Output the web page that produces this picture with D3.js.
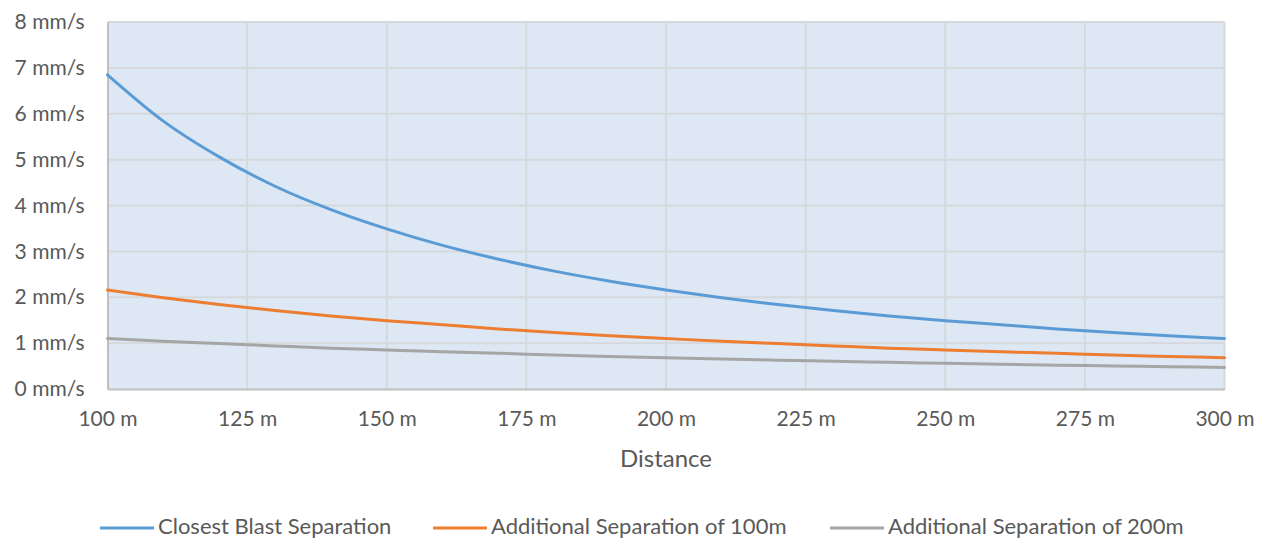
<!DOCTYPE html>
<html>
<head>
<meta charset="utf-8">
<script src="https://cdn.jsdelivr.net/npm/d3@7"></script>
<style>
  html, body { margin: 0; padding: 0; background: #fff; }
  svg { display: block; font-family: Lato, "Noto Sans", sans-serif; }
</style>
</head>
<body>
<svg id="chart" width="1268" height="539"></svg>
<script>
// Peak particle velocity against distance for three blast separations
const distances = [100, 110, 120, 130, 140, 150, 160, 170, 180, 190, 200,
                   210, 220, 230, 240, 250, 260, 270, 280, 290, 300];
const closestBlast = [6.85, 5.84, 5.06, 4.42, 3.91, 3.49, 3.13, 2.83, 2.57, 2.35, 2.16,
                      1.99, 1.84, 1.71, 1.59, 1.49, 1.40, 1.31, 1.23, 1.16, 1.10];
const extra100 = [2.16, 1.99, 1.84, 1.71, 1.59, 1.49, 1.40, 1.31, 1.23, 1.16, 1.10,
                  1.04, 0.99, 0.94, 0.89, 0.85, 0.81, 0.78, 0.74, 0.71, 0.68];
const extra200 = [1.10, 1.04, 0.99, 0.94, 0.89, 0.85, 0.81, 0.78, 0.74, 0.71, 0.68,
                  0.654, 0.628, 0.604, 0.581, 0.56, 0.54, 0.52, 0.503, 0.486, 0.47];
const seriesNames = ["Closest Blast Separation", "Additional Separation of 100m", "Additional Separation of 200m"];
const seriesColors = ["#5b9bd5", "#ed7d31", "#a5a5a5"];
const xTicks = [100, 125, 150, 175, 200, 225, 250, 275, 300];
const yTicks = [0, 1, 2, 3, 4, 5, 6, 7, 8];
const xTitle = "Distance";

const series = [closestBlast, extra100, extra200].map((vals, i) => ({
  name: seriesNames[i], color: seriesColors[i],
  points: distances.map((d, j) => [d, vals[j]])
}));

const svg = d3.select("#chart");
const plotLeft = 107.5, plotRight = 1224.5, plotTop = 22, plotBottom = 389;

const x = d3.scaleLinear().domain([100, 300]).range([plotLeft, plotRight]);
const y = d3.scaleLinear().domain([0, 8]).range([plotBottom, plotTop]);

// plot background
svg.append("rect")
  .attr("x", plotLeft).attr("y", plotTop)
  .attr("width", plotRight - plotLeft).attr("height", plotBottom - plotTop)
  .attr("fill", "#dde8f4");

// gridlines
const grid = svg.append("g").attr("stroke", "#d6d9dc").attr("stroke-width", 2);
grid.selectAll(".hg").data(yTicks.slice(1)).join("line")
  .attr("x1", plotLeft).attr("x2", plotRight)
  .attr("y1", d => y(d)).attr("y2", d => y(d));
grid.selectAll(".vg").data(xTicks.slice(1)).join("line")
  .attr("x1", d => x(d)).attr("x2", d => x(d))
  .attr("y1", plotTop).attr("y2", plotBottom);

// axes
const xAxis = svg.append("g")
  .attr("transform", `translate(0,${plotBottom})`)
  .call(d3.axisBottom(x).tickValues(xTicks).tickSize(0).tickPadding(22).tickFormat(d => `${d} m`));
const yAxis = svg.append("g")
  .attr("transform", `translate(${plotLeft},0)`)
  .call(d3.axisLeft(y).tickValues(yTicks).tickSize(0).tickPadding(23).tickFormat(d => `${d} mm/s`));
[xAxis, yAxis].forEach(g => {
  g.select(".domain").attr("stroke", "#bfbfbf").attr("stroke-width", 2);
  g.selectAll("text").attr("fill", "#595959").style("font-size", "21px")
    .style("font-family", "Lato, 'Noto Sans', sans-serif");
});

// lines
const line = d3.line().x(d => x(d[0])).y(d => y(d[1])).curve(d3.curveMonotoneX);
svg.append("g").selectAll("path").data(series).join("path")
  .attr("d", d => line(d.points))
  .attr("fill", "none")
  .attr("stroke", d => d.color)
  .attr("stroke-width", 3)
  .attr("stroke-linecap", "round");

// axis title
svg.append("text")
  .attr("x", (plotLeft + plotRight) / 2).attr("y", 467)
  .attr("text-anchor", "middle")
  .attr("fill", "#595959").style("font-size", "24px")
  .text(xTitle);

// legend
const legendX = [100, 433, 830];
const legend = svg.append("g").selectAll("g").data(series).join("g")
  .attr("transform", (d, i) => `translate(${legendX[i]},528)`);
legend.append("line")
  .attr("x1", 0).attr("x2", 54).attr("y1", 0).attr("y2", 0)
  .attr("stroke", d => d.color).attr("stroke-width", 3);
legend.append("text")
  .attr("x", 58).attr("y", 6)
  .attr("fill", "#595959").style("font-size", "22px")
  .text(d => d.name);
</script>
</body>
</html>
